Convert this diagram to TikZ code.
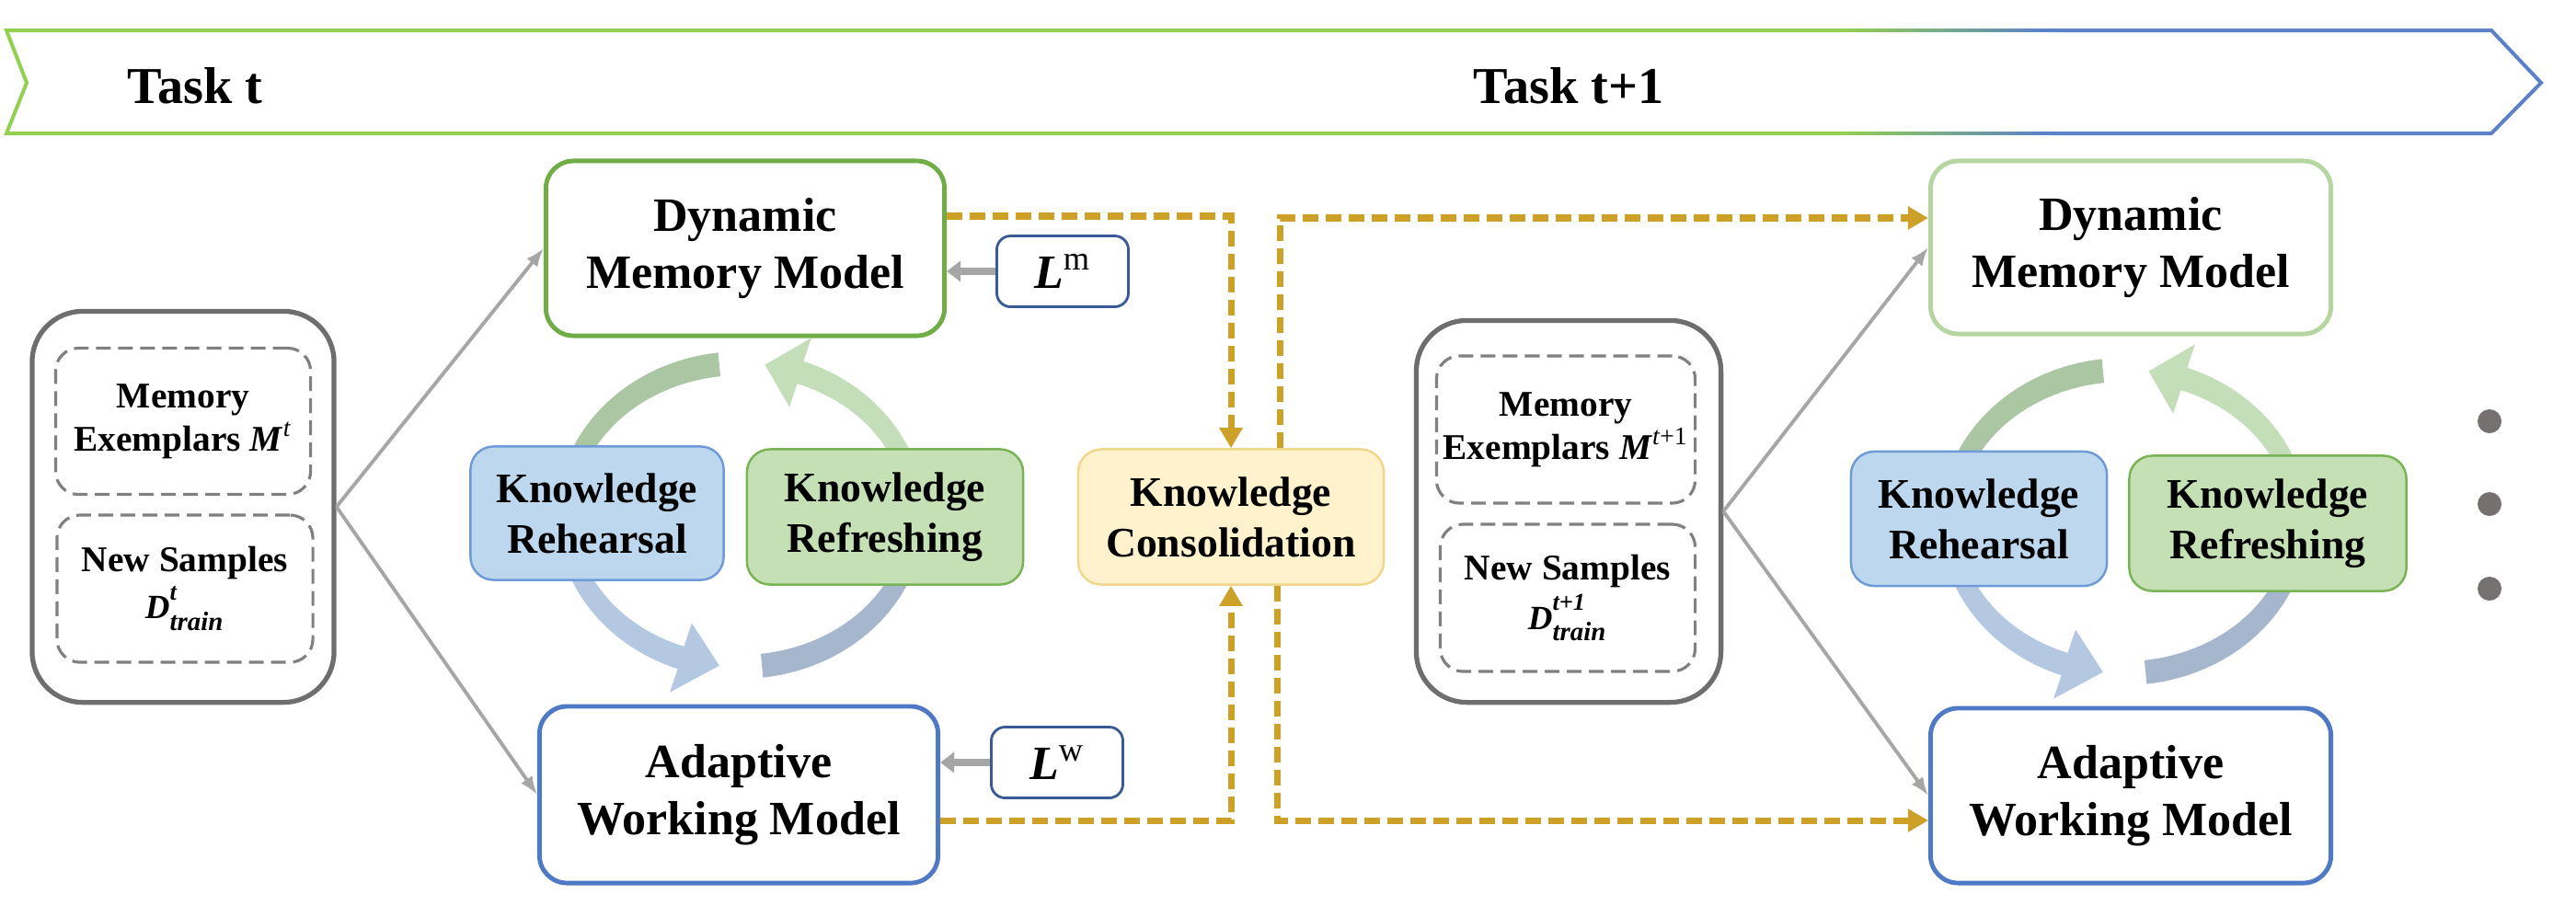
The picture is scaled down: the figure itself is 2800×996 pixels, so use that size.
\RequirePackage{fix-cm}
\documentclass[tikz,border=0pt]{standalone}
\usepackage{fontspec}
\setmainfont{Liberation Serif}
\usepackage{amsmath}
\usetikzlibrary{arrows.meta}
\definecolor{memgreen}{RGB}{112,173,71}
\definecolor{memlight}{RGB}{181,214,160}
\definecolor{workblue}{RGB}{79,121,196}
\definecolor{rehfill}{RGB}{189,215,238}
\definecolor{rehdraw}{RGB}{110,155,215}
\definecolor{reffill}{RGB}{197,224,180}
\definecolor{refdraw}{RGB}{120,180,85}
\definecolor{consfill}{RGB}{255,242,204}
\definecolor{consdraw}{RGB}{240,215,140}
\definecolor{lossblue}{RGB}{56,90,150}
\definecolor{boxgray}{RGB}{110,110,110}
\definecolor{dashgray}{RGB}{128,128,128}
\definecolor{arrowgray}{RGB}{166,166,166}
\definecolor{transfergold}{RGB}{205,160,40}
\definecolor{bannergreen}{RGB}{146,208,80}
\definecolor{bannerblue}{RGB}{91,130,200}
\definecolor{dotgray}{RGB}{118,113,113}
\definecolor{bandA}{RGB}{170,198,162}
\definecolor{bandB}{RGB}{197,222,186}
\definecolor{bandC}{RGB}{180,200,225}
\definecolor{bandD}{RGB}{166,183,205}
\newcommand{\trainset}[1]{{\fontsize{10.5}{12}\selectfont$\textbf{\textit{D}}^{\raisebox{1.5pt}{\fontsize{7.5}{8}\selectfont\textbf{\textit{#1}}}}_{\raisebox{-1pt}{\fontsize{8.2}{9}\selectfont\textbf{\textit{train}}}}$}}
\begin{document}
\begin{tikzpicture}[x=0.01cm,y=-0.01cm,
  model/.style={draw,line width=1.4pt,rounded corners=0.3cm,fill=white,align=center,inner sep=0pt,font=\fontsize{14.8}{17.8}\selectfont\bfseries},
  know/.style={draw,line width=0.7pt,rounded corners=0.25cm,align=center,inner sep=0pt,font=\fontsize{13}{15.6}\selectfont\bfseries},
  databox/.style={draw=boxgray,line width=1.5pt,rounded corners=0.55cm,fill=white,inner sep=0pt},
  sample/.style={draw=dashgray,line width=0.9pt,dash pattern=on 0.16cm off 0.08cm,rounded corners=0.25cm,align=center,inner sep=0pt,font=\fontsize{11.2}{13.4}\selectfont\bfseries},
  lossbox/.style={draw=lossblue,line width=0.8pt,rounded corners=0.15cm,fill=white,inner sep=0pt,minimum width=1.43cm,minimum height=0.77cm,font=\fontsize{14.8}{17.8}\selectfont},
  feed/.style={draw=arrowgray,line width=1.1pt,-{Latex[length=0.2cm,width=0.15cm]}},
  lossarrow/.style={draw=arrowgray,line width=2.2pt,-{Triangle[length=0.15cm,width=0.22cm]}},
  transfer/.style={draw=transfergold,line width=2pt,dash pattern=on 0.17cm off 0.08cm,-{Triangle[length=0.22cm,width=0.24cm]}},
  tasklabel/.style={anchor=base west,inner sep=0pt,font=\fontsize{16}{19}\selectfont\bfseries}]
\useasboundingbox (0,0) rectangle (2800,996);
\draw[bannergreen,line width=0.04cm] (2001,33) -- (7,33) -- (29,90) -- (7,145) -- (2001,145);
\draw[bannerblue,line width=0.04cm] (2229,33) -- (2708,33) -- (2762,90) -- (2708,145) -- (2229,145);
\foreach \i in {0,...,22}{
  \pgfmathtruncatemacro{\pct}{100-\i*100/22}
  \draw[bannergreen!\pct!bannerblue,line width=0.04cm] ({2000+\i*10},33) -- ({2011+\i*10},33);
  \draw[bannergreen!\pct!bannerblue,line width=0.04cm] ({2000+\i*10},145) -- ({2011+\i*10},145);
}
\node[tasklabel] (taskt) at (138,112) {Task t};
\node[tasklabel] (tasknext) at (1601,112) {Task t+1};
\foreach \cx/\cy in {805/560,2309/567}{
\begin{scope}[shift={(\cx,\cy)}]
\fill[bandA] plot[domain=200:263,samples=25] ({200*cos(\x)},{178*sin(\x)}) -- plot[domain=263:200,samples=25] ({180*cos(\x)},{152*sin(\x)}) -- cycle;
\fill[bandB] plot[domain=340:290,samples=25] ({200*cos(\x)},{178*sin(\x)}) -- ({225*cos(290)},{205*sin(290)}) -- ({190*cos(278)},{165*sin(278)}) -- ({155*cos(290)},{125*sin(290)}) -- plot[domain=290:340,samples=25] ({180*cos(\x)},{152*sin(\x)}) -- cycle;
\fill[bandC] plot[domain=160:110,samples=25] ({200*cos(\x)},{178*sin(\x)}) -- ({225*cos(110)},{205*sin(110)}) -- ({190*cos(97)},{165*sin(97)}) -- ({155*cos(110)},{125*sin(110)}) -- plot[domain=110:160,samples=25] ({180*cos(\x)},{152*sin(\x)}) -- cycle;
\fill[bandD] plot[domain=20:83,samples=25] ({200*cos(\x)},{178*sin(\x)}) -- plot[domain=83:20,samples=25] ({180*cos(\x)},{152*sin(\x)}) -- cycle;
\end{scope}}
\node[model,draw=memgreen,minimum width=4.33cm,minimum height=1.9cm] (dmm) at (810,270) {Dynamic\\Memory Model};
\node[model,draw=workblue,minimum width=4.33cm,minimum height=1.92cm] (awm) at (803,864) {Adaptive\\Working Model};
\node[know,fill=rehfill,draw=rehdraw,minimum width=2.75cm,minimum height=1.45cm] (reh) at (649,558) {Knowledge\\Rehearsal};
\node[know,fill=reffill,draw=refdraw,minimum width=3cm,minimum height=1.47cm] (ref) at (962,562) {Knowledge\\Refreshing};
\node[know,fill=consfill,draw=consdraw,minimum width=3.32cm,minimum height=1.47cm] (cons) at (1338,562) {Knowledge\\Consolidation};
\node[databox,minimum width=3.28cm,minimum height=4.25cm] (data) at (199,551) {};
\node[sample,minimum width=2.77cm,minimum height=1.59cm] (mem) at (199,458) {Memory\\Exemplars $\textbf{\textit{M}}^{\textmd{\textit{t}}}$};
\node[sample,minimum width=2.78cm,minimum height=1.6cm] (new) at (201,640) {New Samples\\[1pt]\trainset{t}};
\node[lossbox] (lm) at (1155,295) {$\textbf{\textit{L}}^{\textnormal{m}}$};
\node[lossbox] (lw) at (1149,829) {$\textbf{\textit{L}}^{\textnormal{w}}$};
\node[model,draw=memlight,minimum width=4.35cm,minimum height=1.88cm] (dmm2) at (2316,269) {Dynamic\\Memory Model};
\node[model,draw=workblue,minimum width=4.35cm,minimum height=1.9cm] (awm2) at (2316,865) {Adaptive\\Working Model};
\node[know,fill=rehfill,draw=rehdraw,minimum width=2.78cm,minimum height=1.46cm] (reh2) at (2151,564) {Knowledge\\Rehearsal};
\node[know,fill=reffill,draw=refdraw,minimum width=3.01cm,minimum height=1.47cm] (ref2) at (2465,569) {Knowledge\\Refreshing};
\node[databox,minimum width=3.31cm,minimum height=4.15cm] (data2) at (1705,556) {};
\node[sample,minimum width=2.81cm,minimum height=1.6cm] (mem2) at (1702,467) {Memory\\Exemplars $\textbf{\textit{M}}^{\textmd{\textit{t}+1}}$};
\node[sample,minimum width=2.77cm,minimum height=1.6cm] (new2) at (1704,650) {New Samples\\[2pt]\trainset{t+1}};
\draw[feed] (data.east) -- (dmm.west);
\draw[feed] (data.east) -- (awm.west);
\draw[feed] (data2.east) -- (dmm2.west);
\draw[feed] (data2.east) -- (awm2.west);
\draw[lossarrow] (lm) -- (lm -| dmm.east);
\draw[lossarrow] (lw) -- (lw -| awm.east);
\draw[transfer] ([yshift=0.35cm]dmm.east) -| (cons.north);
\draw[transfer] ([yshift=-0.28cm]awm.east) -| (cons.south);
\draw[transfer] ([xshift=0.53cm]cons.north) |- ([yshift=0.32cm]dmm2.west);
\draw[transfer] ([xshift=0.5cm]cons.south) |- ([yshift=-0.27cm]awm2.west);
\foreach \y in {458,548,640}
  \fill[dotgray] (2706,\y) circle[radius=0.13cm];
\end{tikzpicture}
\end{document}
